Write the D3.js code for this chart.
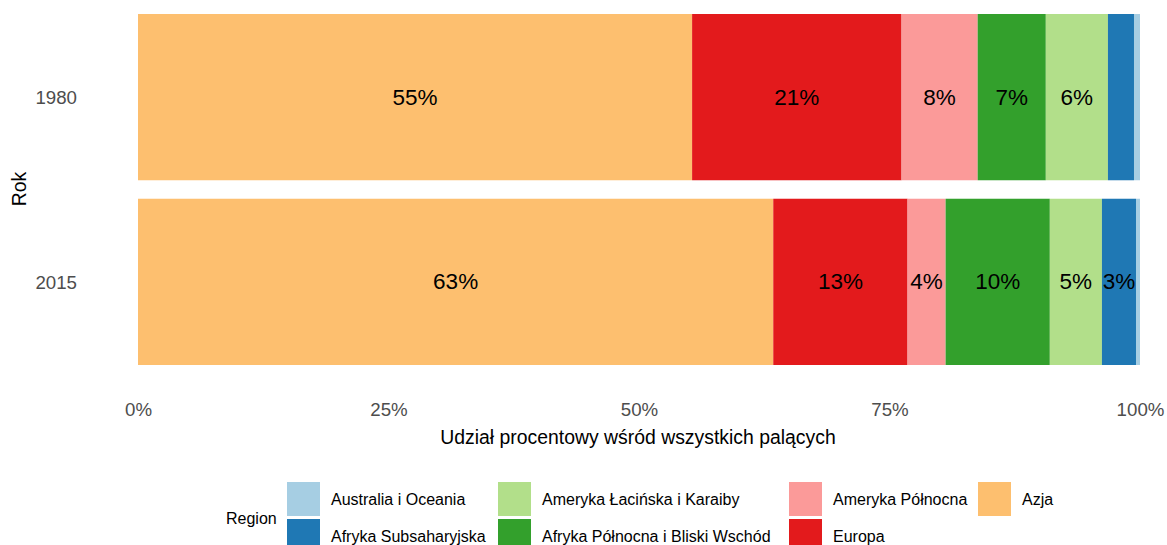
<!DOCTYPE html>
<html>
<head>
<meta charset="utf-8">
<script src="https://cdn.jsdelivr.net/npm/d3@7"></script>
<style>
  html, body { margin: 0; padding: 0; background: #fff; }
  svg { display: block; font-family: "Liberation Sans", Arial, sans-serif; }
</style>
</head>
<body>
<svg id="chart" width="1167" height="545"></svg>
<script>
// Data
const years = ["1980", "2015"];
const regions = ["Azja", "Europa", "Ameryka Północna", "Afryka Północna i Bliski Wschód",
                 "Ameryka Łacińska i Karaiby", "Afryka Subsaharyjska", "Australia i Oceania"];
const share1980 = [55.3, 20.9, 7.6, 6.8, 6.2, 2.6, 0.6];
const share2015 = [63.4, 13.4, 3.8, 10.4, 5.2, 3.4, 0.4];
const xTicks = [0, 25, 50, 75, 100];
const colors = ["#fdbf6f", "#e31a1c", "#fb9a99", "#33a02c", "#b2df8a", "#1f78b4", "#a6cee3"];
// legend order (column-major, 2 rows)
const legendOrder = ["Australia i Oceania", "Afryka Subsaharyjska",
                     "Ameryka Łacińska i Karaiby", "Afryka Północna i Bliski Wschód",
                     "Ameryka Północna", "Europa", "Azja"];

const svg = d3.select("#chart");
const color = d3.scaleOrdinal().domain(regions).range(colors);

const x = d3.scaleLinear().domain([0, 100]).range([138, 1140]);
const y = d3.scaleBand().domain(years).range([14, 365]).paddingInner(0.1).paddingOuter(0);

const rows = years.map((yr, i) => {
  const o = { year: yr };
  const vals = i === 0 ? share1980 : share2015;
  regions.forEach((r, j) => o[r] = vals[j]);
  return o;
});
const stack = d3.stack().keys(regions)(rows);

const g = svg.append("g");
stack.forEach(layer => {
  g.selectAll(null).data(layer).enter().append("rect")
    .attr("x", d => x(d[0]))
    .attr("width", d => x(d[1]) - x(d[0]))
    .attr("y", d => y(d.data.year))
    .attr("height", y.bandwidth())
    .attr("fill", color(layer.key));
});
// labels
stack.forEach(layer => {
  g.selectAll(null).data(layer.filter(d => d[1] - d[0] >= 3)).enter().append("text")
    .attr("x", d => (x(d[0]) + x(d[1])) / 2)
    .attr("y", d => y(d.data.year) + y.bandwidth() / 2)
    .attr("text-anchor", "middle")
    .attr("dominant-baseline", "central")
    .attr("font-size", 22.5)
    .attr("fill", "#000")
    .text(d => Math.round(d[1] - d[0]) + "%");
});

// x axis
const xAxis = d3.axisBottom(x).tickValues(xTicks).tickFormat(d => d + "%").tickSize(0).tickPadding(0);
const xa = svg.append("g").attr("transform", "translate(0,403)").call(xAxis);
xa.select(".domain").remove();
xa.selectAll("text").attr("font-size", 18.7).attr("fill", "#4d4d4d")
  .attr("font-family", "Liberation Sans, Arial, sans-serif");

// y axis
const yAxis = d3.axisLeft(y).tickSize(0).tickPadding(0);
const ya = svg.append("g").attr("transform", "translate(77,1)").call(yAxis);
ya.select(".domain").remove();
ya.selectAll("text").attr("font-size", 18.7).attr("fill", "#4d4d4d")
  .attr("font-family", "Liberation Sans, Arial, sans-serif");

// axis titles
svg.append("text").attr("x", 638).attr("y", 437).attr("text-anchor", "middle")
  .attr("dominant-baseline", "central").attr("font-size", 19.4).attr("fill", "#000")
  .text("Udział procentowy wśród wszystkich palących");
svg.append("text").attr("transform", "translate(19,189) rotate(-90)")
  .attr("text-anchor", "middle").attr("dominant-baseline", "central")
  .attr("font-size", 19.4).attr("fill", "#000").text("Rok");

// legend
svg.append("text").attr("x", 226).attr("y", 518).attr("dominant-baseline", "central")
  .attr("font-size", 16).attr("fill", "#000").text("Region");
const colX = [287, 498, 789, 978];
const rowY = [482, 519];
legendOrder.forEach((name, i) => {
  const c = Math.floor(i / 2), r = i % 2;
  svg.append("rect").attr("x", colX[c]).attr("y", rowY[r]).attr("width", 33).attr("height", 34)
    .attr("fill", color(name));
  svg.append("text").attr("x", colX[c] + 44).attr("y", rowY[r] + 17)
    .attr("dominant-baseline", "central").attr("font-size", 16).attr("fill", "#000").text(name);
});
</script>
</body>
</html>
